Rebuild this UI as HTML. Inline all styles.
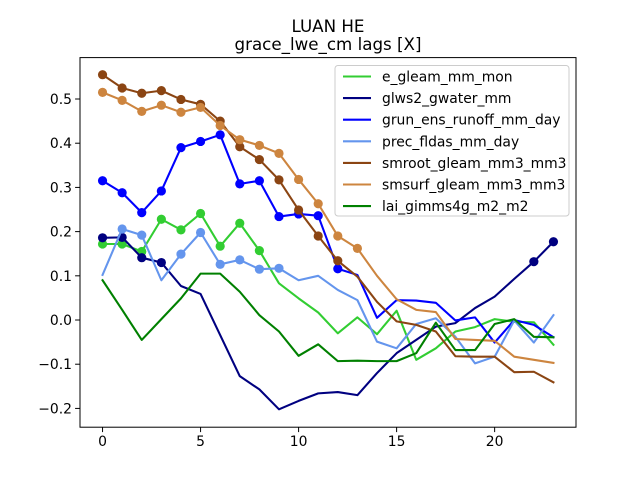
<!DOCTYPE html>
<html><head><meta charset="utf-8"><style>
body{margin:0;background:#fff;}
svg{display:block;font-family:"DejaVu Sans","Liberation Sans",sans-serif;}
</style></head><body>
<svg id="chart" width="640" height="480" xmlns="http://www.w3.org/2000/svg">
<rect width="640" height="480" fill="#fff"/>
<text x="328" y="32" text-anchor="middle" font-size="16.7">LUAN HE</text>
<text x="328" y="50" text-anchor="middle" font-size="16.7">grace_lwe_cm lags [X]</text>
<g id="plot"></g>
<g id="axes"></g>
<g id="legend"></g>
</svg>
<script>
const lags = [0,1,2,3,4,5,6,7,8,9,10,11,12,13,14,15,16,17,18,19,20,21,22,23];
const xTicks = [0,5,10,15,20];
const yTicks = [-0.2,-0.1,0.0,0.1,0.2,0.3,0.4,0.5];
const seriesNames = ["e_gleam_mm_mon","glws2_gwater_mm","grun_ens_runoff_mm_day","prec_fldas_mm_day","smroot_gleam_mm3_mm3","smsurf_gleam_mm3_mm3","lai_gimms4g_m2_m2"];
const eGleam = [0.172,0.172,0.155,0.228,0.204,0.241,0.167,0.219,0.157,0.083,0.049,0.017,-0.030,0.006,-0.032,0.021,-0.090,-0.064,-0.026,-0.016,0.002,-0.004,-0.005,-0.056];
const glws2 = [0.186,0.187,0.141,0.130,0.077,0.059,-0.034,-0.127,-0.157,-0.202,-0.183,-0.166,-0.163,-0.170,-0.120,-0.075,-0.045,-0.015,-0.007,0.027,0.053,0.093,0.132,0.177];
const grun = [0.315,0.288,0.243,0.292,0.390,0.404,0.419,0.308,0.315,0.234,0.240,0.236,0.116,0.102,0.005,0.045,0.044,0.039,-0.001,0.006,-0.051,0.000,-0.011,-0.039];
const prec = [0.102,0.206,0.192,0.090,0.149,0.198,0.126,0.136,0.115,0.117,0.090,0.100,0.068,0.045,-0.049,-0.064,-0.009,0.004,-0.038,-0.098,-0.083,-0.001,-0.051,0.011];
const smroot = [0.555,0.525,0.513,0.519,0.499,0.488,0.450,0.392,0.363,0.317,0.249,0.190,0.134,0.098,0.041,-0.003,-0.011,-0.026,-0.082,-0.083,-0.083,-0.118,-0.117,-0.141];
const smsurf = [0.515,0.497,0.472,0.486,0.470,0.481,0.440,0.408,0.395,0.377,0.318,0.263,0.190,0.162,0.100,0.047,0.023,0.018,-0.043,-0.045,-0.047,-0.083,-0.090,-0.097];
const lai = [0.090,0.023,-0.045,0.002,0.049,0.105,0.105,0.064,0.011,-0.026,-0.081,-0.055,-0.093,-0.092,-0.093,-0.093,-0.075,-0.006,-0.068,-0.068,-0.009,0.002,-0.038,-0.039];
const eGleamSig = [0,1,2,3,4,5,6,7,8];
const glws2Sig = [0,1,2,3,22,23];
const grunSig = [0,1,2,3,4,5,6,7,8,9,10,11,12];
const precSig = [1,2,4,5,6,7,8,9];
const smrootSig = [0,1,2,3,4,5,6,7,8,9,10,11,12];
const smsurfSig = [0,1,2,3,4,5,6,7,8,9,10,11,12,13];
const laiSig = [];

const L=80,R=576,T=57.6,B=427.2, xMin=-1.15,xMax=24.15,yMin=-0.2425,yMax=0.5937;
const xs=v=>L+(v-xMin)/(xMax-xMin)*(R-L);
const ys=v=>B-(v-yMin)/(yMax-yMin)*(B-T);
const NS="http://www.w3.org/2000/svg";
function mk(tag,attrs,parent){const e=document.createElementNS(NS,tag);for(const k in attrs)e.setAttribute(k,attrs[k]);parent.appendChild(e);return e;}
const plot=document.getElementById('plot'),axes=document.getElementById('axes'),legend=document.getElementById('legend');
const series=[
 {vals:eGleam,sig:eGleamSig,color:"#32CD32",id:"e-gleam"},
 {vals:glws2,sig:glws2Sig,color:"#000080",id:"glws2"},
 {vals:grun,sig:grunSig,color:"#0000FF",id:"grun"},
 {vals:prec,sig:precSig,color:"#6495ED",id:"prec"},
 {vals:smroot,sig:smrootSig,color:"#8B4513",id:"smroot"},
 {vals:smsurf,sig:smsurfSig,color:"#CD853F",id:"smsurf"},
 {vals:lai,sig:laiSig,color:"#008000",id:"lai"}];
series.forEach(s=>{
 const g=mk('g',{},plot);
 
 
 const d=s.vals.map((v,i)=>(i?'L':'M')+xs(lags[i]).toFixed(2)+','+ys(v).toFixed(2)).join(' ');
 const p=mk('path',{d:d,fill:'none',stroke:s.color,'stroke-width':2.08,'stroke-linejoin':'round','stroke-linecap':'square'},g);
 
 
 s.sig.forEach(i=>{
  const c=mk('circle',{cx:xs(lags[i]),cy:ys(s.vals[i]),r:4.6,fill:s.color},g);
  
  
 });
});
const frame=mk('rect',{x:L,y:T,width:R-L,height:B-T,fill:'none',stroke:'#000','stroke-width':1},axes);


xTicks.forEach(t=>{
 const x=xs(t);
 mk('line',{x1:x,x2:x,y1:B,y2:B+4.9,stroke:'#000','stroke-width':1},axes);
 const tx=mk('text',{x:x,y:B+19,'text-anchor':'middle','font-size':13.9},axes);
 tx.textContent=t;
 
 
});
yTicks.forEach(t=>{
 const y=ys(t);
 mk('line',{x1:L-4.9,x2:L,y1:y,y2:y,stroke:'#000','stroke-width':1},axes);
 const tx=mk('text',{x:L-8,y:y+5,'text-anchor':'end','font-size':13.9},axes);
 tx.textContent=(t<0?'\u2212':'')+Math.abs(t).toFixed(1);
 
 
});
const box=mk('rect',{x:335,y:65.5,width:234,height:150.5,rx:3,fill:'#fff','fill-opacity':0.8,stroke:'#ccc','stroke-width':1},legend);


seriesNames.forEach((n,i)=>{
 const y=76.5+i*21.6;
 const g=mk('g',{},legend);
 
 
 mk('line',{x1:343,x2:371,y1:y,y2:y,stroke:series[i].color,'stroke-width':2.08},g);
 const tx=mk('text',{x:382,y:y+5,'font-size':13.9},g);
 tx.textContent=n;
});
</script>
</body></html>
